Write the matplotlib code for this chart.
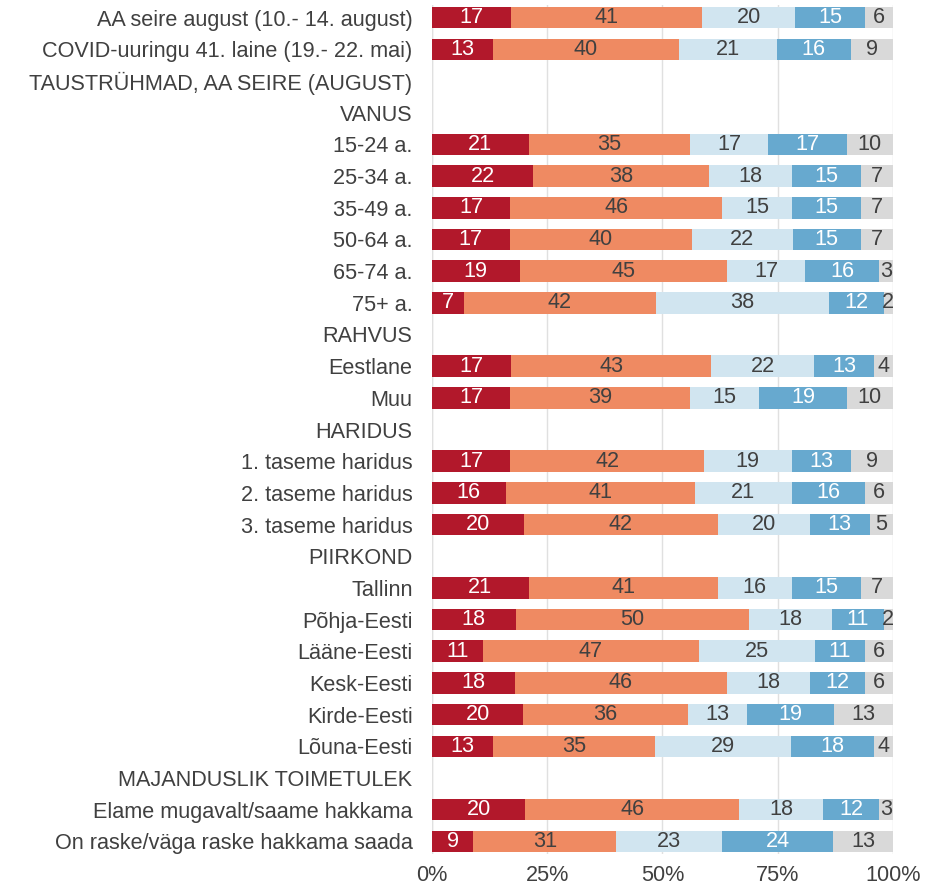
import matplotlib
matplotlib.use("Agg")
import matplotlib.pyplot as plt
import numpy as np

plt.rcParams["font.family"] = ["Liberation Sans", "DejaVu Sans"]

labels = [
    "AA seire august (10.- 14. august)",
    "COVID-uuringu 41. laine (19.- 22. mai)",
    "TAUSTRÜHMAD, AA SEIRE (AUGUST)",
    "VANUS",
    "15-24 a.", "25-34 a.", "35-49 a.", "50-64 a.", "65-74 a.", "75+ a.",
    "RAHVUS",
    "Eestlane", "Muu",
    "HARIDUS",
    "1. taseme haridus", "2. taseme haridus", "3. taseme haridus",
    "PIIRKOND",
    "Tallinn", "Põhja-Eesti", "Lääne-Eesti", "Kesk-Eesti", "Kirde-Eesti", "Lõuna-Eesti",
    "MAJANDUSLIK TOIMETULEK",
    "Elame mugavalt/saame hakkama",
    "On raske/väga raske hakkama saada",
]

# None = header row without bar
s1 = [17, 13, None, None, 21, 22, 17, 17, 19, 7, None, 17, 17, None, 17, 16, 20, None, 21, 18, 11, 18, 20, 13, None, 20, 9]
s2 = [41, 40, None, None, 35, 38, 46, 40, 45, 42, None, 43, 39, None, 42, 41, 42, None, 41, 50, 47, 46, 36, 35, None, 46, 31]
s3 = [20, 21, None, None, 17, 18, 15, 22, 17, 38, None, 22, 15, None, 19, 21, 20, None, 16, 18, 25, 18, 13, 29, None, 18, 23]
s4 = [15, 16, None, None, 17, 15, 15, 15, 16, 12, None, 13, 19, None, 13, 16, 13, None, 15, 11, 11, 12, 19, 18, None, 12, 24]
s5 = [6, 9, None, None, 10, 7, 7, 7, 3, 2, None, 4, 10, None, 9, 6, 5, None, 7, 2, 6, 6, 13, 4, None, 3, 13]

xticks = [0, 25, 50, 75, 100]
xticklabels = ["0%", "25%", "50%", "75%", "100%"]

colors = ["#B2182B", "#EF8A62", "#D1E5F0", "#67A9CF", "#D9D9D9"]
txt_colors = ["white", "#404040", "#404040", "white", "#404040"]

fig = plt.figure(figsize=(9.26, 8.9), dpi=100)
ax = fig.add_axes([0.4665, 1 - 854 / 890, 0.4978, (854 - 5) / 890])

series = [s1, s2, s3, s4, s5]
y = np.arange(len(labels))
for i in range(len(labels)):
    if s1[i] is None:
        continue
    vals = np.array([s[i] for s in series], dtype=float)
    widths = vals / vals.sum() * 100
    left = 0.0
    for k in range(5):
        ax.barh(y[i], widths[k], left=left, height=0.68, color=colors[k], zorder=2)
        ax.text(left + widths[k] / 2, y[i], f"{int(vals[k])}", ha="center", va="center",
                fontsize=15.6, color=txt_colors[k], zorder=3)
        left += widths[k]

ax.set_ylim(len(labels) - 0.6, -0.4)
ax.set_xlim(0, 100)
ax.set_yticks(y)
ax.set_yticklabels(labels, fontsize=15.6, color="#404040")
ax.set_xticks(xticks)
ax.set_xticklabels(xticklabels, fontsize=15.6, color="#404040")
ax.tick_params(length=0)
ax.tick_params(axis="y", pad=14)
ax.tick_params(axis="x", pad=8)
for sp in ax.spines.values():
    sp.set_visible(False)
ax.grid(axis="x", color="#E0E0E0", lw=1, zorder=0)
ax.axvline(0, color="#E0E0E0", lw=1, zorder=0)

fig.savefig("out.png", dpi=100)
